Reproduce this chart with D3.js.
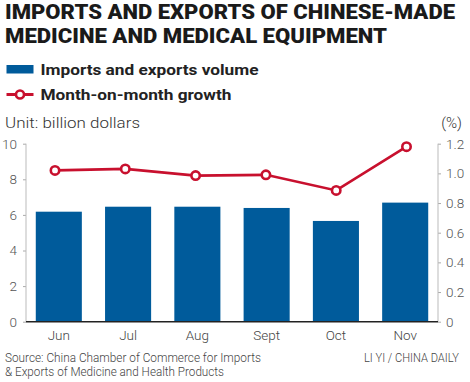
<!DOCTYPE html>
<html><head><meta charset="utf-8">
<script src="https://cdn.jsdelivr.net/npm/d3@7"></script>
<style>body{margin:0;background:#fff}svg{display:block}</style>
</head><body>
<script>
const months = ["Jun","Jul","Aug","Sept","Oct","Nov"];
const volume = [6.18, 6.46, 6.46, 6.39, 5.66, 6.69];
const growth = [1.02, 1.03, 0.985, 0.99, 0.885, 1.18];
const leftTicks = [0,2,4,6,8,10];
const rightTicks = [0,0.2,0.4,0.6,0.8,1.0,1.2];

const W=470,H=382;
const svg=d3.select("body").append("svg").attr("width",W).attr("height",H);
const blue="#005b9b", red="#c8102e";
const x=d3.scaleBand().domain(months).range([24,440]).paddingInner(0.335).paddingOuter(0.17);
const xLine=d3.scalePoint().domain(months).range([55,406.5]);
const yL=d3.scaleLinear().domain([0,10]).range([321.7,143.7]);
const yR=d3.scaleLinear().domain([0,1.2]).range([321.7,143.7]);

// titles
svg.append("text").attr("x",5).attr("y",19).attr("font-family","Roboto").attr("font-weight",900)
 .attr("font-size",19.5).attr("fill","#1a1a1a").attr("textLength",450).attr("lengthAdjust","spacingAndGlyphs")
 .text("IMPORTS AND EXPORTS OF CHINESE-MADE");
svg.append("text").attr("x",5).attr("y",43).attr("font-family","Roboto").attr("font-weight",900)
 .attr("font-size",19.5).attr("fill","#1a1a1a").attr("textLength",382).attr("lengthAdjust","spacingAndGlyphs")
 .text("MEDICINE AND MEDICAL EQUIPMENT");

// legend
svg.append("rect").attr("x",6.5).attr("y",65).attr("width",27).attr("height",8.5).attr("fill",blue);
svg.append("text").attr("x",40.5).attr("y",74.5).attr("font-family","Roboto").attr("font-weight",700)
 .attr("font-size",15).attr("fill","#222").attr("textLength",218).attr("lengthAdjust","spacingAndGlyphs")
 .text("Imports and exports volume");
svg.append("line").attr("x1",6.5).attr("x2",33.5).attr("y1",94.5).attr("y2",94.5).attr("stroke",red).attr("stroke-width",3);
svg.append("circle").attr("cx",20).attr("cy",94.5).attr("r",4).attr("fill","#fff").attr("stroke",red).attr("stroke-width",2.6);
svg.append("text").attr("x",40.5).attr("y",100).attr("font-family","Roboto").attr("font-weight",700)
 .attr("font-size",15).attr("fill","#222").attr("textLength",191).attr("lengthAdjust","spacingAndGlyphs")
 .text("Month-on-month growth");

svg.append("text").attr("x",5).attr("y",128).attr("font-family","Roboto").attr("font-weight",300)
 .attr("font-size",15).attr("fill","#333").attr("textLength",135).attr("lengthAdjust","spacingAndGlyphs")
 .text("Unit: billion dollars");
svg.append("text").attr("x",462).attr("y",128).attr("text-anchor","end").attr("font-family","Roboto").attr("font-weight",300)
 .attr("font-size",15).attr("fill","#333").text("(%)");

// axes
const gL=svg.append("g").attr("transform","translate(26,0)")
 .call(d3.axisLeft(yL).tickValues(leftTicks).tickSize(3).tickPadding(6).tickFormat(d3.format("d")));
const gR=svg.append("g").attr("transform","translate(438,0)")
 .call(d3.axisRight(yR).tickValues(rightTicks).tickSize(3).tickPadding(5).tickFormat(d=>d===0?"0":d3.format(".1f")(d)));
[gL,gR].forEach(g=>{
 g.select(".domain").remove();
 g.selectAll(".tick line").attr("stroke","#aaa");
 g.selectAll(".tick text").attr("font-family","Roboto").attr("font-weight",300).attr("font-size",13.5).attr("fill","#555");
});
svg.append("line").attr("x1",26).attr("x2",26).attr("y1",yL(10)).attr("y2",yL(0)).attr("stroke","#bbb");
svg.append("line").attr("x1",438).attr("x2",438).attr("y1",yR(1.2)).attr("y2",yR(0)).attr("stroke","#bbb");

// bars
svg.selectAll("rect.bar").data(volume).join("rect").attr("class","bar")
 .attr("x",(d,i)=>x(months[i])).attr("width",x.bandwidth())
 .attr("y",d=>yL(d)).attr("height",d=>yL(0)-yL(d)).attr("fill",blue);

// baseline
svg.append("line").attr("x1",26).attr("x2",438).attr("y1",yL(0)).attr("y2",yL(0)).attr("stroke","#222").attr("stroke-width",1.4);

// x labels
const gX=svg.append("g").attr("transform",`translate(0,${yL(0)})`)
 .call(d3.axisBottom(x).tickSize(0).tickPadding(9));
gX.select(".domain").remove();
gX.selectAll(".tick text").attr("font-family","Roboto").attr("font-weight",300).attr("font-size",13.5).attr("fill","#444");

// line
const line=d3.line().x((d,i)=>xLine(months[i])).y(d=>yR(d));
svg.append("path").datum(growth).attr("d",line).attr("fill","none").attr("stroke",red).attr("stroke-width",2.6);
svg.selectAll("circle.pt").data(growth).join("circle").attr("class","pt")
 .attr("cx",(d,i)=>xLine(months[i])).attr("cy",d=>yR(d)).attr("r",4.2)
 .attr("fill","#fff").attr("stroke",red).attr("stroke-width",2.6);

// source
svg.append("text").attr("x",5).attr("y",362).attr("font-family","Roboto").attr("font-weight",300)
 .attr("font-size",12.5).attr("fill","#444").attr("textLength",256).attr("lengthAdjust","spacingAndGlyphs")
 .text("Source: China Chamber of Commerce for Imports");
svg.append("text").attr("x",5).attr("y",376).attr("font-family","Roboto").attr("font-weight",300)
 .attr("font-size",12.5).attr("fill","#444").attr("textLength",219).attr("lengthAdjust","spacingAndGlyphs")
 .text("& Exports of Medicine and Health Products");
svg.append("text").attr("x",459).attr("y",362).attr("text-anchor","end").attr("font-family","Roboto").attr("font-weight",300)
 .attr("font-size",12.5).attr("fill","#444").attr("textLength",95).attr("lengthAdjust","spacingAndGlyphs")
 .text("LI YI / CHINA DAILY");
</script>
</body></html>
